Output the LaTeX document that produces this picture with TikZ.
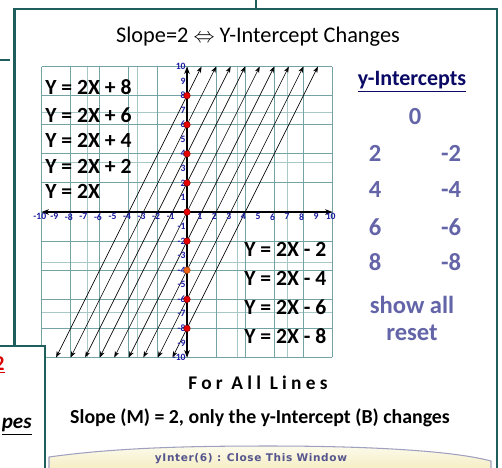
\documentclass[tikz,border=0pt]{standalone}
\usepackage{fontspec}
\setmainfont{Carlito}
\newfontfamily\spacedfont{Carlito}[LetterSpace=22]
\newfontfamily\bannerfont{DejaVu Sans}[LetterSpace=6]
\usetikzlibrary{arrows.meta}
\definecolor{wteal}{HTML}{1E5E5C}
\definecolor{gridlt}{HTML}{A8C8C8}
\definecolor{griddk}{HTML}{73A3A3}
\definecolor{axnavy}{HTML}{1A1AA0}
\definecolor{icpt}{HTML}{6464A8}
\definecolor{hdnavy}{HTML}{0A0A66}
\definecolor{dotred}{HTML}{E80000}
\definecolor{dotorange}{HTML}{F06418}
\definecolor{bannertop}{HTML}{FCFAEA}
\definecolor{bannerbot}{HTML}{F4ECC0}
\definecolor{bannerln}{HTML}{A0A0C0}
\definecolor{bannertx}{HTML}{55558F}

\begin{document}
\begin{tikzpicture}[x=0.02cm, y=-0.02cm, >=Stealth,
   win/.style={draw=wteal, line width=1.5pt},
   eqn/.style={anchor=west, inner sep=0pt, font=\bfseries\fontsize{12.3}{14}\selectfont},
   icp/.style={icpt, font=\bfseries\fontsize{14}{16}\selectfont},
   tick/.style={axnavy, inner sep=0.6pt, font=\bfseries\fontsize{5.5}{6}\selectfont},
   dot/.style={circle, fill=dotred, draw=red!55!black, line width=0.3pt, inner sep=0pt, minimum size=1.3mm},
   slopeln/.style={<->, line width=0.35pt, >={Stealth[length=3.6pt,width=2.6pt]}},
   axisln/.style={<->, line width=0.8pt, >={Stealth[length=4.2pt,width=3.2pt]}}]
  \useasboundingbox (0,0) rectangle (502,467);
  % windows behind
  \draw[win] (0,60) -- (10,60);
  \draw[win] (256,0) -- (256,8);
  \draw[win, fill=white] (14.5,9) rectangle (497,480);
  % title
  \node[font=\fontsize{12.7}{14}\selectfont] (title) at (258,37) {Slope=2 $\Leftrightarrow$ Y-Intercept Changes};
  % graph
  \begin{scope}[shift={(187,212)}, x=0.291cm, y=0.291cm]
    \draw[gridlt, line width=0.5pt] (-10,-10) grid (10,10);
    \draw[griddk, line width=0.5pt, step=2] (-10,-10) grid (10,10);
    \coordinate (xl) at (-10,0);
    \coordinate (xr) at (10,0);
    \coordinate (yb) at (0,-10);
    \coordinate (yt) at (0,10);
    \foreach \b [count=\i] in {-8,-6,...,8} {
      \coordinate (lo\i) at ({(-10-\b)/2},-10);
      \coordinate (hi\i) at ({(10-\b)/2},10);
      \draw[slopeln] (lo\i) -- (hi\i);
    }
    \draw[axisln] (xl) -- (xr);
    \draw[axisln] (yb) -- (yt);
    \foreach \k in {-10,...,-1,1,2,...,10} {
      \node[tick, anchor=north, xshift=-1pt] (tx\k) at (\k,0) {\k};
      \node[tick, anchor=east] (ty\k) at (0,\k) {\k};
    }
    \foreach \b [count=\i] in {8,6,4,2,0,-2,-6,-8}
      \node[dot] (d\i) at (0,\b) {};
    \node[dot, fill=dotorange, draw=dotorange!70!black] (d9) at (0,-4) {};
  \end{scope}
  % equations
  \node[eqn] (e8) at (45,87) {Y = 2X + 8};
  \node[eqn] (e6) at (45,115) {Y = 2X + 6};
  \node[eqn] (e4) at (45,140) {Y = 2X + 4};
  \node[eqn] (e2) at (45,166) {Y = 2X + 2};
  \node[eqn] (e0) at (45,191) {Y = 2X};
  \node[eqn] (em2) at (244,249) {Y = 2X - 2};
  \node[eqn] (em4) at (244,278) {Y = 2X - 4};
  \node[eqn] (em6) at (244,307) {Y = 2X - 6};
  \node[eqn] (em8) at (244,336) {Y = 2X - 8};
  % intercepts
  \node[hdnavy, font=\bfseries\fontsize{12.5}{14}\selectfont] (ihead) at (412,82) {\underline{y-Intercepts}};
  \node[icp] (i0) at (415,117) {0};
  \node[icp] (i2) at (375,153) {2};
  \node[icp] (im2) at (451,153) {-2};
  \node[icp] (i4) at (375,190) {4};
  \node[icp] (im4) at (451,190) {-4};
  \node[icp] (i6) at (375,227) {6};
  \node[icp] (im6) at (451,227) {-6};
  \node[icp] (i8) at (375,262) {8};
  \node[icp] (im8) at (451,262) {-8};
  \node[icp] (showall) at (412,305) {show all};
  \node[icp] (reset) at (412,333) {reset};
  % notes
  \node[font=\spacedfont\bfseries\fontsize{11}{12}\selectfont] (forall) at (258,383) {For All Lines};
  \node[font=\bfseries\fontsize{11.3}{13}\selectfont] (note) at (260,418) {Slope (M) = 2, only the y-Intercept (B) changes};
  % close bar
  \draw[bannerln, line width=0.6pt, top color=bannertop, bottom color=bannerbot]
    (49,472) -- (49,457) .. controls (120,447) and (200,446) .. (270,446)
    .. controls (360,446) and (450,450) .. (491,461) -- (491,472) -- cycle;
  \node[bannertx, font=\bannerfont\bfseries\fontsize{6}{7}\selectfont] (close) at (251,459) {yInter(6) : Close This Window};
  % window in front
  \draw[win, fill=white] (-5,346) rectangle (45,480);
  \node[anchor=east, inner sep=0pt, red!85!black, font=\bfseries\fontsize{12}{14}\selectfont] (two) at (5,365) {\underline{2}};
  \node[anchor=east, inner sep=0pt, font=\bfseries\itshape\fontsize{12}{14}\selectfont] (pes) at (32,427) {\underline{pes}};
\end{tikzpicture}
\end{document}
